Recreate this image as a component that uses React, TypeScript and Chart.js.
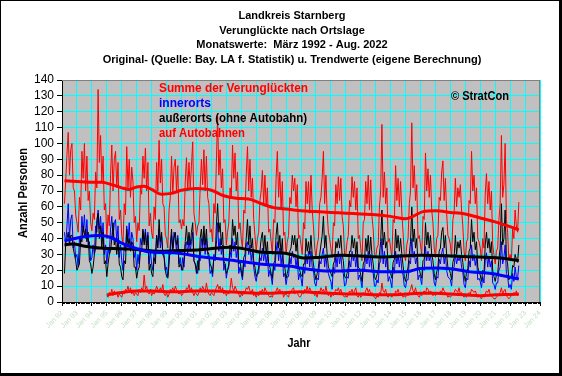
import React, { useEffect, useRef } from "react";
import { Chart, registerables } from "chart.js";

Chart.register(...registerables);

// ---------- texts ----------
const titleLines = [
  "Landkreis Starnberg",
  "Verunglückte nach Ortslage",
  "Monatswerte:  März 1992 - Aug. 2022",
  "Original- (Quelle: Bay. LA f. Statistik) u. Trendwerte (eigene Berechnung)",
];
const legendLabels = ["Summe der Verunglückten", "innerorts", "außerorts (ohne Autobahn)", "auf Autobahnen"];
const legendColors = ["#ff0000", "#0000ff", "#000000", "#ff0000"];
const copyright = "© StratCon";
const yTitle = "Anzahl Personen";
const xTitle = "Jahr";

// ---------- axes ----------
const xTickLabels = [
  "Jan 92", "Jan 93", "Jan 94", "Jan 95", "Jan 96", "Jan 97", "Jan 98", "Jan 99", "Jan 00", "Jan 01", "Jan 02",
  "Jan 03", "Jan 04", "Jan 05", "Jan 06", "Jan 07", "Jan 08", "Jan 09", "Jan 10", "Jan 11", "Jan 12", "Jan 13",
  "Jan 14", "Jan 15", "Jan 16", "Jan 17", "Jan 18", "Jan 19", "Jan 20", "Jan 21", "Jan 22", "Jan 23", "Jan 24",
];
const yTickValues = [0, 10, 20, 30, 40, 50, 60, 70, 80, 90, 100, 110, 120, 130, 140];

// month index 0 = Jan 1992
const seriesStart = 2; // Mar 1992
const autobahnStart = 36; // Jan 1995

// ---------- monthly values (Mar 1992 - Aug 2022) ----------
const sumValues = [
  62, 77, 93, 107, 80, 96, 100, 72, 70, 55,
  50, 44, 66, 58, 95, 78, 100, 70, 92, 64, 70, 50,
  45, 56, 52, 82, 72, 134, 88, 105, 76, 92, 58, 62,
  40, 55, 48, 80, 99, 70, 90, 95, 72, 88, 52, 58,
  42, 36, 62, 55, 98, 72, 90, 66, 85, 76, 50, 54,
  38, 50, 45, 72, 68, 92, 78, 97, 70, 88, 48, 56,
  44, 40, 60, 52, 88, 70, 102, 75, 90, 62, 60, 42,
  40, 34, 58, 66, 92, 68, 85, 90, 70, 86, 50, 52,
  46, 52, 48, 76, 91, 70, 88, 72, 86, 101, 56, 50,
  42, 48, 50, 72, 90, 74, 96, 70, 92, 66, 62, 44,
  46, 38, 62, 56, 88, 117, 80, 96, 72, 84, 50, 52,
  36, 44, 50, 72, 66, 99, 78, 94, 70, 82, 46, 50,
  40, 34, 58, 56, 80, 98, 70, 90, 66, 78, 52, 42,
  32, 40, 44, 64, 70, 83, 62, 80, 60, 72, 44, 46,
  38, 30, 52, 50, 78, 95, 66, 82, 58, 76, 42, 44,
  30, 38, 42, 66, 62, 80, 70, 78, 60, 74, 40, 42,
  36, 30, 50, 46, 76, 62, 76, 56, 80, 58, 48, 34,
  28, 36, 40, 62, 66, 78, 95, 62, 80, 56, 44, 40,
  34, 28, 50, 48, 74, 62, 79, 64, 78, 54, 48, 30,
  30, 38, 42, 64, 60, 79, 66, 76, 58, 72, 40, 42,
  34, 26, 50, 52, 76, 62, 80, 58, 77, 54, 46, 30,
  28, 34, 36, 60, 70, 112, 66, 82, 62, 72, 38, 40,
  34, 28, 52, 50, 86, 64, 78, 60, 76, 56, 44, 30,
  26, 36, 40, 62, 70, 113, 72, 86, 64, 74, 40, 42,
  36, 30, 54, 52, 94, 70, 84, 66, 80, 58, 50, 34,
  28, 40, 42, 66, 64, 82, 89, 64, 78, 56, 42, 40,
  36, 28, 52, 56, 78, 60, 72, 66, 74, 58, 48, 32,
  26, 38, 40, 64, 62, 95, 70, 80, 62, 72, 40, 38,
  34, 26, 40, 34, 68, 81, 62, 76, 58, 70, 36, 30,
  24, 32, 34, 52, 62, 105, 66, 74, 100, 52, 44, 26,
  30, 26, 46, 40, 58, 48, 44, 63,
];

const innerValues = [
  44, 36, 48, 62, 40, 52, 55, 34, 38, 28,
  30, 22, 40, 36, 54, 44, 55, 40, 52, 36, 38, 26,
  28, 36, 30, 48, 44, 58, 46, 54, 40, 50, 30, 36,
  24, 34, 30, 46, 54, 40, 50, 52, 38, 48, 28, 36,
  26, 20, 36, 32, 48, 38, 50, 34, 44, 40, 28, 32,
  20, 30, 24, 40, 36, 45, 38, 46, 36, 44, 24, 32,
  24, 20, 32, 28, 42, 36, 46, 34, 42, 30, 30, 20,
  22, 16, 32, 30, 42, 34, 44, 40, 32, 42, 24, 28,
  20, 28, 22, 36, 38, 30, 40, 32, 38, 44, 26, 24,
  22, 18, 28, 26, 40, 34, 42, 30, 40, 30, 28, 18,
  20, 16, 30, 26, 36, 50, 32, 40, 30, 36, 20, 24,
  15, 20, 22, 32, 28, 40, 32, 38, 28, 34, 18, 22,
  18, 14, 26, 22, 36, 38, 30, 36, 26, 32, 22, 16,
  13, 18, 18, 28, 26, 34, 26, 32, 24, 30, 16, 20,
  16, 11, 24, 20, 32, 38, 26, 34, 24, 30, 16, 18,
  11, 16, 16, 28, 24, 32, 28, 30, 22, 28, 14, 18,
  15, 10, 22, 18, 30, 24, 32, 22, 32, 22, 20, 12,
  10, 15, 14, 26, 24, 30, 34, 22, 30, 20, 18, 15,
  13, 8, 22, 18, 30, 22, 32, 24, 30, 20, 18, 10,
  11, 16, 15, 26, 22, 32, 26, 30, 22, 30, 14, 17,
  14, 9, 21, 20, 30, 24, 32, 22, 30, 20, 18, 10,
  10, 14, 12, 24, 26, 40, 24, 32, 22, 28, 13, 16,
  13, 9, 22, 18, 32, 24, 30, 22, 30, 20, 17, 10,
  9, 14, 14, 26, 24, 40, 28, 32, 24, 28, 14, 17,
  15, 11, 22, 20, 35, 26, 32, 26, 30, 22, 20, 12,
  10, 16, 15, 27, 24, 31, 34, 24, 30, 20, 16, 15,
  14, 10, 21, 22, 30, 24, 28, 26, 29, 22, 19, 11,
  9, 15, 14, 26, 22, 36, 26, 30, 23, 28, 14, 15,
  13, 9, 16, 12, 26, 31, 22, 29, 22, 26, 12, 11,
  8, 12, 12, 20, 22, 38, 24, 28, 36, 18, 16, 9,
  11, 8, 18, 13, 22, 16, 15, 23,
];

const outerValues = [
  18, 38, 40, 44, 36, 42, 42, 34, 30, 26,
  20, 22, 24, 40, 38, 48, 42, 46, 38, 44, 26, 24,
  18, 22, 30, 34, 52, 56, 40, 48, 34, 44, 24, 26,
  16, 24, 30, 32, 40, 50, 36, 40, 30, 40, 24, 22,
  16, 14, 26, 24, 46, 36, 40, 32, 38, 36, 22, 22,
  15, 20, 22, 32, 32, 46, 36, 44, 32, 42, 20, 24,
  18, 16, 28, 24, 42, 34, 52, 38, 44, 30, 28, 20,
  16, 15, 24, 36, 46, 32, 40, 44, 36, 40, 22, 24,
  22, 20, 26, 38, 48, 36, 44, 36, 44, 50, 26, 24,
  18, 26, 20, 40, 46, 36, 48, 36, 46, 32, 30, 24,
  22, 18, 28, 28, 48, 62, 44, 50, 36, 44, 26, 24,
  18, 20, 24, 36, 32, 52, 42, 48, 36, 44, 24, 26,
  20, 16, 28, 30, 40, 52, 36, 48, 34, 40, 26, 22,
  16, 18, 22, 32, 40, 44, 32, 42, 30, 38, 24, 22,
  18, 15, 24, 26, 42, 50, 34, 42, 30, 40, 22, 22,
  15, 18, 22, 32, 34, 42, 36, 42, 32, 40, 22, 20,
  17, 16, 24, 24, 40, 32, 38, 30, 42, 30, 24, 18,
  14, 18, 22, 30, 36, 42, 54, 34, 42, 30, 22, 20,
  18, 16, 24, 26, 38, 34, 40, 34, 42, 30, 26, 16,
  15, 18, 22, 32, 32, 42, 34, 40, 30, 38, 22, 21,
  17, 13, 24, 26, 40, 32, 42, 30, 41, 30, 24, 16,
  14, 17, 20, 30, 38, 58, 36, 44, 34, 38, 21, 20,
  18, 15, 25, 27, 46, 34, 42, 32, 40, 30, 23, 16,
  13, 18, 22, 30, 38, 60, 38, 46, 34, 40, 22, 21,
  17, 15, 26, 27, 50, 36, 44, 34, 42, 30, 26, 18,
  14, 19, 22, 32, 34, 44, 47, 34, 42, 30, 22, 21,
  18, 14, 25, 28, 42, 30, 38, 34, 39, 30, 25, 17,
  13, 19, 21, 32, 34, 52, 38, 44, 33, 38, 22, 19,
  17, 13, 20, 18, 36, 44, 34, 40, 31, 38, 20, 16,
  13, 17, 18, 27, 34, 62, 36, 40, 58, 28, 24, 14,
  16, 15, 23, 22, 30, 27, 25, 36,
];

// Jan 1995 - Aug 2022
const autobahnValues = [
  4, 3, 6, 5, 8, 4, 7, 5, 6, 3, 5, 4,
  3, 6, 5, 8, 7, 10, 6, 9, 5, 7, 4, 6,
  5, 4, 8, 6, 9, 7, 17, 8, 10, 6, 5, 8,
  4, 6, 5, 7, 10, 8, 6, 9, 7, 11, 5, 4,
  6, 3, 5, 8, 7, 9, 6, 10, 8, 6, 5, 7,
  4, 5, 7, 6, 9, 8, 11, 7, 9, 6, 4, 6,
  5, 4, 6, 9, 7, 10, 8, 6, 12, 7, 5, 4,
  6, 5, 4, 7, 9, 11, 8, 10, 6, 9, 5, 7,
  4, 6, 5, 8, 15, 9, 7, 10, 8, 6, 5, 3,
  5, 4, 7, 6, 9, 8, 10, 7, 6, 8, 4, 5,
  3, 5, 4, 7, 6, 8, 5, 9, 7, 6, 4, 3,
  4, 3, 6, 5, 7, 9, 6, 8, 5, 7, 3, 5,
  5, 4, 3, 7, 6, 8, 9, 5, 7, 6, 4, 3,
  4, 6, 5, 8, 7, 10, 6, 9, 7, 5, 6, 4,
  5, 3, 7, 6, 9, 7, 8, 5, 10, 6, 4, 6,
  3, 5, 4, 6, 8, 7, 9, 6, 8, 5, 4, 3,
  4, 3, 5, 7, 6, 8, 5, 7, 9, 4, 3, 5,
  3, 4, 6, 5, 7, 9, 6, 8, 5, 6, 4, 3,
  2, 4, 3, 6, 5, 12, 7, 6, 8, 4, 3, 5,
  4, 3, 5, 4, 7, 6, 8, 5, 6, 5, 3, 4,
  3, 5, 4, 6, 8, 11, 7, 6, 9, 5, 4, 3,
  5, 4, 6, 7, 5, 9, 8, 6, 7, 6, 4, 5,
  4, 5, 6, 5, 7, 6, 9, 7, 6, 5, 3, 4,
  3, 4, 5, 6, 8, 7, 6, 9, 5, 6, 4, 3,
  4, 3, 5, 6, 5, 8, 7, 6, 7, 5, 3, 4,
  3, 2, 4, 3, 5, 7, 6, 8, 5, 4, 3, 2,
  2, 3, 4, 5, 6, 9, 5, 7, 8, 4, 3, 2,
  3, 4, 5, 6, 5, 7, 4, 5,
];

// ---------- trend values [month index, value] ----------
const sumTrend = [
  [2, 76.5], [12, 76], [24, 75.5], [32, 75.5], [40, 74], [48, 72], [54, 71], [60, 72.5], [66, 73], [72, 71],
  [80, 68], [88, 68.5], [96, 70.5], [108, 71.5], [120, 70.5], [130, 67], [140, 65.5], [150, 65], [160, 62],
  [170, 59.5], [182, 58.5], [192, 57.5], [204, 57], [216, 56.5], [228, 56], [240, 55.5], [252, 55], [264, 54],
  [276, 52.5], [282, 54], [290, 57], [300, 57.5], [312, 56.5], [324, 55.5], [336, 53], [348, 50.5], [358, 48], [367, 45.5],
];
const innerTrend = [
  [2, 38.5], [10, 40], [20, 41.5], [30, 42], [40, 40.5], [47, 37.5], [59, 34], [71, 31.5], [90, 31], [111, 28.5],
  [135, 26.5], [159, 24], [184, 22.5], [192, 21.3], [216, 19.5], [240, 20], [256, 19], [276, 19], [288, 21.2],
  [300, 21.5], [312, 21], [328, 19], [345, 18], [358, 16], [367, 14.5],
];
const outerTrend = [
  [2, 36], [8, 36.5], [20, 35], [30, 34], [40, 33.7], [55, 33.4], [79, 32], [95, 32.5], [111, 33], [135, 34.5],
  [150, 33], [159, 31.5], [175, 31], [184, 30], [194, 27.8], [204, 28], [224, 29.5], [256, 28.4], [288, 29.5],
  [328, 28.5], [352, 27.7], [367, 26],
];
const autobahnTrend = [
  [36, 4.5], [48, 6], [60, 7], [72, 7], [84, 6.5], [96, 6.5], [108, 7], [120, 7], [132, 6.5], [144, 6],
  [156, 5.5], [168, 5.5], [180, 6], [192, 6.5], [204, 6], [216, 5.5], [228, 5], [240, 5], [252, 4.5], [264, 4.5],
  [276, 5], [288, 5.5], [300, 5.5], [312, 5], [324, 4.5], [336, 4], [348, 4.5], [360, 4.8], [367, 5],
];

const FONT = "Arial, 'Liberation Sans', sans-serif";

const toPoints = (start: number, vals: number[]) => vals.map((v, i) => ({ x: start + i, y: v }));
const trendPoints = (arr: number[][]) => arr.map(([x, y]) => ({ x, y }));

const decorPlugin = {
  id: "decor",
  beforeDraw(chart: any) {
    const { ctx, chartArea: a, width, height } = chart;
    ctx.save();
    ctx.fillStyle = "#000";
    ctx.fillRect(0, 0, width, height);
    ctx.fillStyle = "#fff";
    ctx.fillRect(1, 1, width - 4, height - 4);
    ctx.fillStyle = "#c0c0c0";
    ctx.fillRect(a.left, a.top, a.right - a.left, a.bottom - a.top);
    ctx.restore();
  },
  beforeDatasetsDraw(chart: any) {
    const { ctx, chartArea: a } = chart;
    ctx.save();
    ctx.fillStyle = "#808080";
    ctx.fillRect(a.left, a.top, a.right - a.left, 1);
    ctx.fillRect(a.right - 1, a.top, 1, a.bottom - a.top);
    ctx.restore();
  },
  afterDraw(chart: any) {
    const { ctx, chartArea: a } = chart;
    const xs = chart.scales.x;
    ctx.save();
    // minor monthly ticks
    ctx.fillStyle = "#000";
    for (let m = 0; m <= 384; m++) {
      if (m % 12 === 0) continue;
      const px = Math.round(xs.getPixelForValue(m));
      ctx.fillRect(px, a.bottom, 1, 2);
    }
    // titles
    ctx.textAlign = "center";
    ctx.textBaseline = "middle";
    ctx.fillStyle = "#000";
    ctx.font = `bold 11px ${FONT}`;
    const titleY = [16, 31, 45, 60];
    const titleW = [113, 152, 198, 393];
    titleLines.forEach((t, i) => ctx.fillText(t, 292, titleY[i], titleW[i]));
    // legend
    ctx.textAlign = "left";
    ctx.font = `bold 12px ${FONT}`;
    const legW = [149, 52, 148, 86];
    legendLabels.forEach((t, i) => {
      ctx.fillStyle = legendColors[i];
      ctx.fillText(t, 159, 89 + i * 15, legW[i]);
    });
    // copyright
    ctx.fillStyle = "#000";
    ctx.fillText(copyright, 451, 97, 58);
    // axis titles
    ctx.textAlign = "center";
    ctx.fillText(xTitle, 299, 344, 23);
    ctx.translate(24, 193);
    ctx.rotate(-Math.PI / 2);
    ctx.fillText(yTitle, 0, 0, 90);
    ctx.restore();
  },
};

export default function App() {
  const ref = useRef<HTMLCanvasElement | null>(null);
  useEffect(() => {
    if (!ref.current) return;
    const chart = new Chart(ref.current, {
      type: "line",
      data: {
        datasets: [
          { label: "sumTrend", data: trendPoints(sumTrend), borderColor: "#ff0000", borderWidth: 3, cubicInterpolationMode: "monotone", order: 0 },
          { label: "innerTrend", data: trendPoints(innerTrend), borderColor: "#0000ff", borderWidth: 3, cubicInterpolationMode: "monotone", order: 1 },
          { label: "outerTrend", data: trendPoints(outerTrend), borderColor: "#000000", borderWidth: 3, cubicInterpolationMode: "monotone", order: 2 },
          { label: "autobahnTrend", data: trendPoints(autobahnTrend), borderColor: "#ff0000", borderWidth: 3, cubicInterpolationMode: "monotone", order: 3 },
          { label: legendLabels[3], data: toPoints(autobahnStart, autobahnValues), borderColor: "#ff0000", borderWidth: 1, order: 4 },
          { label: legendLabels[2], data: toPoints(seriesStart, outerValues), borderColor: "#000000", borderWidth: 1, order: 5 },
          { label: legendLabels[1], data: toPoints(seriesStart, innerValues), borderColor: "#0000ff", borderWidth: 1, order: 6 },
          { label: legendLabels[0], data: toPoints(seriesStart, sumValues), borderColor: "#ff0000", borderWidth: 1, order: 7 },
        ] as any,
      },
      options: {
        animation: false,
        responsive: false,
        maintainAspectRatio: false,
        devicePixelRatio: 1,
        layout: { padding: { left: 0, top: 80, right: 22, bottom: 0 } },
        plugins: { legend: { display: false }, tooltip: { enabled: false }, title: { display: false } },
        elements: { point: { radius: 0 }, line: { tension: 0, fill: false } },
        scales: {
          x: {
            type: "linear",
            min: 0,
            max: 384,
            afterBuildTicks: (s: any) => {
              s.ticks = xTickLabels.map((_, i) => ({ value: i * 12 }));
            },
            afterFit: (s: any) => {
              s.height = 74;
            },
            grid: { color: "#00ffff", tickColor: "#000", tickLength: 4, lineWidth: 1 },
            border: { color: "#000", width: 1 },
            ticks: {
              autoSkip: false,
              minRotation: 45,
              maxRotation: 45,
              color: "#c0dcc0",
              padding: 3,
              font: { size: 7, family: FONT },
              callback: (_v: any, i: number) => xTickLabels[i],
            },
          },
          y: {
            min: 0,
            max: 140,
            afterBuildTicks: (s: any) => {
              s.ticks = yTickValues.map((v) => ({ value: v }));
            },
            afterFit: (s: any) => {
              s.width = 62;
            },
            grid: { color: "#00ffff", tickColor: "#000", tickLength: 5, lineWidth: 1 },
            border: { color: "#000", width: 1 },
            ticks: {
              autoSkip: false,
              color: "#000",
              padding: 3,
              font: { size: 12, family: FONT },
              callback: (v: any) => String(v),
            },
          },
        },
      } as any,
      plugins: [decorPlugin],
    });
    return () => chart.destroy();
  }, []);
  return (
    <div style={{ position: "fixed", left: 0, top: 0, width: 562, height: 376 }}>
      <canvas ref={ref} width={562} height={376} style={{ width: 562, height: 376, display: "block" }} />
    </div>
  );
}
